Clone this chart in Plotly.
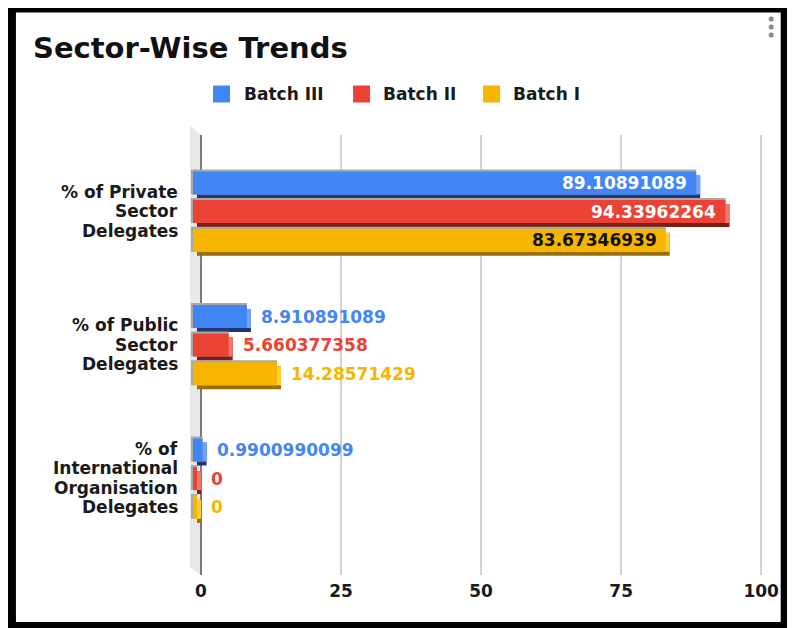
import plotly.graph_objects as go

# ---------------- data ----------------
category_lines = [
    ["% of Private", "Sector", "Delegates"],
    ["% of Public", "Sector", "Delegates"],
    ["% of", "International", "Organisation", "Delegates"],
]
series_names = ["Batch III", "Batch II", "Batch I"]
batch3 = [89.10891089, 8.910891089, 0.9900990099]
batch2 = [94.33962264, 5.660377358, 0]
batch1 = [83.67346939, 14.28571429, 0]
x_ticks = [0, 25, 50, 75, 100]

# ---------------- styles ----------------
face_colors = ["#4285F4", "#EA4335", "#F7B500"]
light_colors = ["#6FA3F7", "#F2786C", "#FFCC3A"]
dark_colors = ["#1E3A70", "#7A1E16", "#9A7000"]
inside_text_colors = ["#FFFFFF", "#FFFFFF", "#111111"]
FONT = "DejaVu Sans"

OFF = 8  # page body margin
W, H = 795 - OFF, 628 - OFF

def P(v):
    """reference pixel -> figure pixel"""
    return v - OFF

XS = 5.6          # px per x unit
YS = 133.5        # px per category
L = P(190)
T = P(135)
plot_bottom = P(575)
B = H - plot_bottom
x_range = [-(201 - 190) / XS, 100.5]
plot_right = P(201) + x_range[1] * XS
R = W - plot_right
plot_w = plot_right - L
plot_h = plot_bottom - T
y_range = [(575 - 214) / YS, -(214 - 135) / YS]

def xp(px):
    return (P(px) - L) / plot_w

def yp(py):
    return (plot_bottom - P(py)) / plot_h

centers = [-0.232, -0.018, 0.197]
h = 23 / YS
D = 4
X0 = -8 / XS

series = [batch3, batch2, batch1]
ypos = list(range(len(category_lines)))

fig = go.Figure()
for k, vals in enumerate(series):
    c = centers[k]
    # gray edge
    fig.add_trace(go.Bar(
        orientation="h", y=ypos,
        base=X0 - 2 / XS, x=[(v - D / XS) - (X0 - 2 / XS) for v in vals],
        offset=c - h / 2 - 2 / YS, width=h + 2 / YS,
        marker=dict(color="#A8A8A8", line=dict(width=0)),
        showlegend=False, hoverinfo="skip"))
    # dark depth
    fig.add_trace(go.Bar(
        orientation="h", y=ypos,
        base=X0 + D / XS, x=[v - (X0 + D / XS) for v in vals],
        offset=c - h / 2 + D / YS, width=h,
        marker=dict(color=dark_colors[k], line=dict(width=0)),
        showlegend=False, hoverinfo="skip"))
    # light side
    fig.add_trace(go.Bar(
        orientation="h", y=ypos,
        base=X0 + D / XS, x=[v - (X0 + D / XS) for v in vals],
        offset=c - h / 2 + D / YS, width=h - D / YS,
        marker=dict(color=light_colors[k], line=dict(width=0)),
        showlegend=False, hoverinfo="skip"))
    # face
    fig.add_trace(go.Bar(
        orientation="h", y=ypos, name=series_names[k],
        base=X0, x=[v - D / XS - X0 for v in vals],
        offset=c - h / 2, width=h,
        marker=dict(color=face_colors[k], line=dict(width=0)),
        showlegend=False, hoverinfo="skip"))

annotations = []
# value labels
for k, vals in enumerate(series):
    for i, v in enumerate(vals):
        inside = v > 50
        annotations.append(dict(
            x=v, y=i + centers[k], xref="x", yref="y",
            text=str(v), showarrow=False,
            xanchor="right" if inside else "left",
            xshift=-11 if inside else 8,
            font=dict(family=FONT, size=17, weight="bold",
                      color=inside_text_colors[k] if inside else face_colors[k]),
        ))

# category labels (one annotation per line)
LINE_STEP = 19.5
for i, lines in enumerate(category_lines):
    n = len(lines)
    for j, line in enumerate(lines):
        annotations.append(dict(
            x=xp(179), y=i, xref="paper", yref="y",
            yshift=-((j - (n - 1) / 2) * LINE_STEP) + 3,
            text=line, showarrow=False, xanchor="right", borderpad=0,
            font=dict(family=FONT, size=17, weight="bold", color="#1a1a1a"),
        ))

# legend
legend_sq_x = [213, 353, 483]
legend_txt_x = [242, 381, 511]
shapes = []
for k, name in enumerate(series_names):
    shapes.append(dict(type="rect", xref="paper", yref="paper",
                       x0=xp(legend_sq_x[k]), x1=xp(legend_sq_x[k] + 17),
                       y0=yp(102.5), y1=yp(85.5),
                       fillcolor=face_colors[k], line=dict(width=0)))
    annotations.append(dict(
        x=xp(legend_txt_x[k]), y=yp(94), xref="paper", yref="paper",
        text=name, showarrow=False, xanchor="left", yanchor="middle",
        font=dict(family=FONT, size=17, weight="bold", color="#1a1a1a")))

# wall on the left of zero line
shapes.append(dict(
    type="path", xref="x", yref="paper", layer="below",
    path=f"M {x_range[0]},{yp(125)} L 0,{yp(135)} L 0,{yp(575)} L {x_range[0]},{yp(567)} Z",
    fillcolor="#E8E8E8", line=dict(width=0)))

# menu dots
for cy in [19, 27, 35]:
    shapes.append(dict(type="circle", xref="paper", yref="paper",
                       x0=xp(768.5), x1=xp(773.5), y0=yp(cy + 2.5), y1=yp(cy - 2.5),
                       fillcolor="#8A8A8A", line=dict(width=0)))

# black frame
shapes.append(dict(type="rect", xref="paper", yref="paper",
                   x0=xp(11.5), x1=xp(785), y0=yp(626.5), y1=yp(8),
                   fillcolor="rgba(0,0,0,0)", line=dict(color="black", width=9)))

fig.update_layout(
    width=W, height=H,
    margin=dict(l=L, r=R, t=T, b=B, pad=0),
    paper_bgcolor="white", plot_bgcolor="white",
    barmode="overlay",
    showlegend=False,
    title=dict(text="Sector-Wise Trends", x=P(33) / W, xanchor="left",
               y=1 - P(48) / H, yanchor="middle", xref="container", yref="container",
               font=dict(family=FONT, size=29, weight="bold", color="#111111")),
    xaxis=dict(range=x_range, tickvals=x_ticks, ticktext=[str(t) for t in x_ticks],
               showgrid=True, gridcolor="#D2D2D2", gridwidth=1.5,
               zeroline=True, zerolinecolor="#7A7A7A", zerolinewidth=2,
               showline=False, ticks="", ticklabelstandoff=4,
               tickfont=dict(family=FONT, size=17, weight="bold", color="#1a1a1a")),
    yaxis=dict(range=y_range, tickvals=ypos, showticklabels=False,
               showgrid=False, zeroline=False, showline=False),
    annotations=annotations,
    shapes=shapes,
)

fig.write_html("out.html")
